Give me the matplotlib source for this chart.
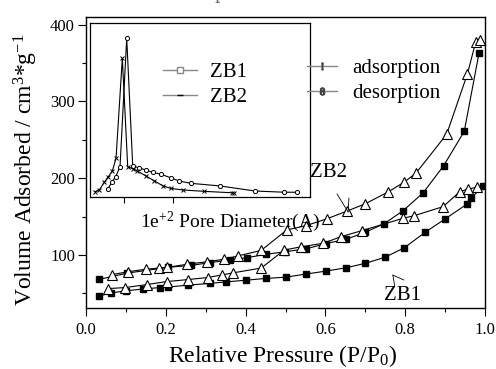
import matplotlib
matplotlib.use("Agg")
import matplotlib.pyplot as plt
from matplotlib.lines import Line2D
from matplotlib.ticker import MultipleLocator

plt.rcParams['font.family'] = ['Liberation Serif', 'DejaVu Serif']
plt.rcParams['mathtext.fontset'] = 'custom'
plt.rcParams['mathtext.rm'] = 'Liberation Serif'
plt.rcParams['mathtext.it'] = 'Liberation Serif'

# ---------------- data (main isotherms) ----------------
zb2_ads_x = [0.033, 0.104, 0.206, 0.263, 0.310, 0.360, 0.403, 0.452, 0.499, 0.551,
             0.602, 0.652, 0.700, 0.748, 0.795, 0.845, 0.896, 0.948, 0.985]
zb2_ads_y = [68.3, 76.5, 84, 86.5, 90, 93.5, 96.5, 101, 104.3, 108,
             115, 120.5, 129.6, 141, 157.8, 181, 216, 261, 363]

zb2_des_x = [0.065, 0.106, 0.150, 0.182, 0.204, 0.254, 0.304, 0.345, 0.382, 0.439, 0.503,
             0.551, 0.603, 0.655, 0.699, 0.756, 0.797, 0.827, 0.904, 0.956, 0.977, 0.987]
zb2_des_y = [74.5, 78.3, 81.5, 83, 84, 88, 91.3, 94.4, 99, 106, 132.6,
             138.2, 147, 157.4, 166.5, 181.8, 194.8, 206.6, 257.4, 336, 378, 380]

zb1_ads_x = [0.033, 0.062, 0.100, 0.142, 0.185, 0.205, 0.255, 0.311, 0.351, 0.401, 0.450, 0.500,
             0.551, 0.602, 0.652, 0.700, 0.749, 0.798, 0.850, 0.900, 0.954, 0.965, 0.996]
zb1_ads_y = [46.7, 50.5, 53.4, 55.7, 57.6, 58.3, 60.7, 63.1, 65, 67.2, 69.5, 71.1,
             75.2, 79.1, 83.4, 89.2, 97, 109.5, 129.6, 147, 166, 174, 190]

zb1_des_x = [0.056, 0.098, 0.152, 0.202, 0.255, 0.305, 0.342, 0.369, 0.439, 0.497,
             0.540, 0.595, 0.639, 0.691, 0.795, 0.823, 0.895, 0.937, 0.957, 0.979]
zb1_des_y = [56.3, 57.6, 61.5, 65.4, 68, 70.7, 74.2, 76.8, 83, 106.5,
             110.8, 115.3, 123.9, 131.7, 147.9, 151.3, 163, 182.6, 185.7, 188.3]

# ---------------- data (inset pore size distribution, arbitrary units) ----------------
psd_circ_x = [0.675, 0.757, 0.838, 0.925, 1.061, 1.183, 1.310, 1.446, 1.588, 1.751, 1.953,
              2.128, 2.359, 2.953, 3.663, 4.258, 4.509]
psd_circ_y = [4.6, 8.6, 11.8, 17.5, 91.0, 17.9, 16.9, 15.6, 14.3, 13.2, 11.2,
              9.3, 8.0, 6.5, 3.6, 2.9, 2.9]
psd_x_x = [0.418, 0.505, 0.606, 0.688, 0.769, 0.844, 0.972, 1.081, 1.195, 1.276, 1.452,
           1.615, 1.791, 1.953, 2.197, 2.635, 3.191, 3.237]
psd_x_y = [3.2, 4.2, 8.6, 11.8, 15.0, 22.3, 79.5, 17.5, 16.2, 15.0, 12.2,
           9.5, 6.6, 5.1, 4.2, 3.4, 2.6, 2.6]

W, H = 496, 369
fig = plt.figure(figsize=(W / 100, H / 100), dpi=100)

def frac(x0, y0, x1, y1):
    return [x0 / W, 1 - y1 / H, (x1 - x0) / W, (y1 - y0) / H]

ax = fig.add_axes(frac(86, 17, 485, 308))
lw = 0.8
ax.plot(zb2_ads_x, zb2_ads_y, '-', color='k', lw=lw, marker='s', ms=5, mfc='k', mec='k', zorder=3)
ax.plot(zb2_des_x, zb2_des_y, '-', color='k', lw=lw, marker='^', ms=7, mfc='white', mec='k', mew=0.8, zorder=3)
ax.plot(zb1_ads_x, zb1_ads_y, '-', color='k', lw=lw, marker='s', ms=5, mfc='k', mec='k', zorder=3)
ax.plot(zb1_des_x, zb1_des_y, '-', color='k', lw=lw, marker='^', ms=7, mfc='white', mec='k', mew=0.8, zorder=3)

ax.set_xlim(0, 1.0)
ax.set_ylim(31, 410)
ax.xaxis.set_major_locator(MultipleLocator(0.2))
ax.xaxis.set_minor_locator(MultipleLocator(0.1))
ax.yaxis.set_major_locator(MultipleLocator(100))
ax.yaxis.set_minor_locator(MultipleLocator(50))
ax.xaxis.set_major_formatter(matplotlib.ticker.FormatStrFormatter('%.1f'))
ax.tick_params(which='major', direction='out', length=6, width=0.8, labelsize=12, pad=2)
ax.tick_params(which='minor', direction='out', length=3, width=0.8)
ax.tick_params(axis='x', which='major', pad=4)
for s in ax.spines.values():
    s.set_linewidth(1.0)

fig.text(283 / W, 1 - 356 / H, 'Relative Pressure (P/P$_0$)', ha='center', va='center', fontsize=17)
fig.text(26 / W, 1 - 170 / H, 'Volume Adsorbed / cm$^3$*g$^{-1}$', ha='center', va='center',
         rotation=90, fontsize=17)

# faint title, mostly cut off at the top edge as in the reference
fig.text(260 / W, 1 + 2 / H, 'of sample ZB1 and ZB2', ha='center', va='baseline', fontsize=15,
         color='#666666')

# labels with pointer ticks
ax.text(0.561, 207, 'ZB2', fontsize=15, ha='left', va='center')
ax.text(0.747, 47.8, 'ZB1', fontsize=15, ha='left', va='center')
for end in [(0.629, 179.6), (0.659, 174.3)]:
    ax.annotate('', xy=(0.657, 156), xytext=end, arrowprops=dict(arrowstyle='-', lw=0.6, color='k',
                shrinkA=0, shrinkB=0))
for end in [(0.797, 67.4), (0.774, 58.3)]:
    ax.annotate('', xy=(0.769, 73.9), xytext=end, arrowprops=dict(arrowstyle='-', lw=0.6, color='k',
                shrinkA=0, shrinkB=0))

# ---------------- inset ----------------
ins = fig.add_axes(frac(90, 22.5, 310, 197.3))
ins.set_facecolor('white')
ins.plot(psd_circ_x, psd_circ_y, '-', color='k', lw=0.8, marker='o', ms=3, mfc='white', mec='k', mew=0.7)
ins.plot(psd_x_x, psd_x_y, '-', color='k', lw=0.8, marker='x', ms=3.5, mec='k', mew=0.7)
ins.set_xlim(0.316, 4.78)
ins.set_ylim(0, 100)
ins.set_xticks([1, 2])
ins.set_xticklabels([])
ins.set_yticks([])
ins.tick_params(axis='x', direction='out', length=4, width=0.8)
for s in ins.spines.values():
    s.set_linewidth(0.9)
ins.set_xlabel('1e$^{+2}$ Pore Diameter(A)', fontsize=14)
ins.xaxis.set_label_coords((230 - 90) / 220, -0.07)

h1 = Line2D([], [], color='#888888', lw=1.0, marker='s', ms=5, mfc='white', mec='#888888')
h2 = Line2D([], [], color='#888888', lw=1.0, marker='_', ms=5, mec='k')
fig.legend([h1, h2], ['ZB1', 'ZB2'], loc='center left', bbox_to_anchor=(163 / W, 1 - 85 / H),
           frameon=False, fontsize=15, handlelength=1.65, handletextpad=0.6, labelspacing=0.25,
           borderpad=0, borderaxespad=0)

h3 = Line2D([], [], color='#888888', lw=1.0, marker='$!$', ms=5, mec='#444444', mfc='#444444')
h4 = Line2D([], [], color='#888888', lw=1.0, marker='$8$', ms=5, mec='#444444', mfc='#444444')
fig.legend([h3, h4], ['adsorption', 'desorption'], loc='center left', bbox_to_anchor=(307 / W, 1 - 81 / H),
           frameon=False, fontsize=15, handlelength=1.45, handletextpad=0.7, labelspacing=0.25,
           borderpad=0, borderaxespad=0)

fig.savefig('out.png', dpi=100)
